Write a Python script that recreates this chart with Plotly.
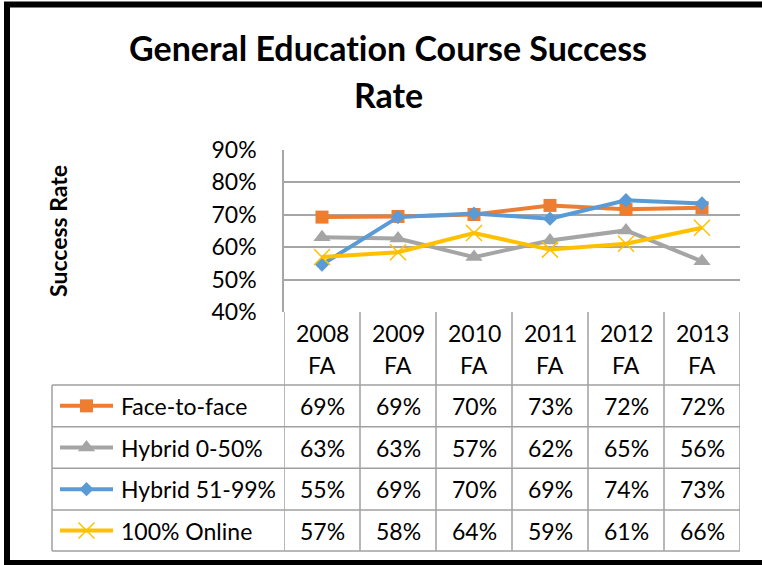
import plotly.graph_objects as go

# ---------------- data ----------------
categories = ["2008 FA", "2009 FA", "2010 FA", "2011 FA", "2012 FA", "2013 FA"]
years = ["2008", "2009", "2010", "2011", "2012", "2013"]
terms = ["FA", "FA", "FA", "FA", "FA", "FA"]
series_names = ["Face-to-face", "Hybrid 0-50%", "Hybrid 51-99%", "100% Online"]
face_to_face = [0.692, 0.694, 0.700, 0.728, 0.716, 0.721]
hybrid_0_50 = [0.630, 0.626, 0.569, 0.620, 0.651, 0.556]
hybrid_51_99 = [0.546, 0.692, 0.703, 0.687, 0.744, 0.734]
online_100 = [0.569, 0.584, 0.643, 0.592, 0.610, 0.659]
y_ticks = [0.4, 0.5, 0.6, 0.7, 0.8, 0.9]

# ---------------- styles ----------------
colors = ["#ED7D31", "#A5A5A5", "#5B9BD5", "#FFC000"]
symbols = ["square", "triangle-up", "diamond", "x-thin"]
msizes = [13, 15, 11, 16]
FONT = "Lato"
FS = 23
GRID = "#A6A6A6"
TABLE_LINE = "#A0A0A0"
NOLIG = "font-variant-ligatures:none"

W, H = 762, 565
PL, PR, PT, PB = 284, 740, 149.5, 312
ROWS = [385, 426.7, 468.3, 510, 551]
TL = 52

fig = go.Figure()
all_series = [face_to_face, hybrid_0_50, hybrid_51_99, online_100]
xs = list(range(len(categories)))

for name, vals, c, s, ms in zip(series_names, all_series, colors, symbols, msizes):
    marker = dict(symbol=s, size=ms, color=c)
    if s == "x-thin":
        marker["line"] = dict(color=c, width=1.5)
    fig.add_trace(go.Scatter(x=xs, y=vals, mode="lines+markers", name=name,
                             line=dict(color=c, width=4), marker=marker,
                             xaxis="x", yaxis="y", showlegend=False,
                             cliponaxis=False))

# legend keys inside the data table (pixel overlay axes)
for i, (c, s, ms) in enumerate(zip(colors, symbols, msizes)):
    yc = (ROWS[i] + ROWS[i + 1]) / 2
    marker = dict(symbol=s, size=ms, color=c)
    if s == "x-thin":
        marker["line"] = dict(color=c, width=1.5)
    fig.add_trace(go.Scatter(x=[60, 113], y=[yc, yc], mode="lines",
                             line=dict(color=c, width=4), xaxis="x2", yaxis="y2",
                             showlegend=False, hoverinfo="skip"))
    fig.add_trace(go.Scatter(x=[86.5], y=[yc], mode="markers", marker=marker,
                             xaxis="x2", yaxis="y2", showlegend=False,
                             hoverinfo="skip"))

shapes = []
annotations = []
# outer black frame
shapes.append(dict(type="rect", xref="x2", yref="y2", x0=7, x1=800, y0=4.5, y1=563,
                   line=dict(color="black", width=6), fillcolor="rgba(0,0,0,0)"))

# table lines
for k in range(len(categories) + 1):
    x = k - 0.5
    shapes.append(dict(type="line", xref="x", yref="y2", x0=x, x1=x, y0=PB, y1=ROWS[-1],
                       line=dict(color=TABLE_LINE, width=1.5)))
for yv in ROWS:
    shapes.append(dict(type="line", xref="x2", yref="y2", x0=TL, x1=PR, y0=yv, y1=yv,
                       line=dict(color=TABLE_LINE, width=1.5)))
shapes.append(dict(type="line", xref="x2", yref="y2", x0=TL, x1=TL, y0=ROWS[0], y1=ROWS[-1],
                   line=dict(color=TABLE_LINE, width=1.5)))

tfont = dict(family=FONT, size=FS, color="black")
# header text
for i, (yr, tm) in enumerate(zip(years, terms)):
    annotations.append(dict(x=i, y=333, xref="x", yref="y2", text=yr, showarrow=False, font=tfont))
    annotations.append(dict(x=i, y=365, xref="x", yref="y2", text=tm, showarrow=False, font=tfont))
# row text
for r, (name, vals) in enumerate(zip(series_names, all_series)):
    yc = (ROWS[r] + ROWS[r + 1]) / 2
    annotations.append(dict(x=119, y=yc, xref="x2", yref="y2", text=name, showarrow=False,
                            xanchor="left", font=tfont))
    for i, v in enumerate(vals):
        annotations.append(dict(x=i, y=yc, xref="x", yref="y2", text=f"{round(v*100)}%",
                                showarrow=False, font=tfont))

# title and axis title
annotations.append(dict(x=388, y=47, xref="x2", yref="y2",
                        text=f"<span style='{NOLIG}'><b>General Education Course Success</b></span>",
                        showarrow=False, font=dict(family=FONT, size=34, color="black")))
annotations.append(dict(x=388, y=94, xref="x2", yref="y2", text="<b>Rate</b>",
                        showarrow=False, font=dict(family=FONT, size=34, color="black")))
annotations.append(dict(x=58, y=231, xref="x2", yref="y2", text="<b>Success Rate</b>", textangle=-90,
                        showarrow=False, font=dict(family=FONT, size=23, color="black")))

fig.update_layout(
    width=W, height=H, autosize=False,
    margin=dict(l=0, r=0, t=0, b=0, pad=0, autoexpand=False),
    paper_bgcolor="white", plot_bgcolor="rgba(0,0,0,0)",
    showlegend=False,
    xaxis=dict(domain=[PL / W, PR / W], range=[-0.5, 5.5], showticklabels=False,
               showgrid=False, zeroline=False, showline=False, anchor="y",
               automargin=False, fixedrange=True),
    yaxis=dict(domain=[(H - PB) / H, (H - PT) / H], range=[0.4, 0.9], tickvals=y_ticks,
               tickformat=".0%", showgrid=True, gridcolor=GRID, gridwidth=1.5,
               zeroline=False, showline=True, linecolor=GRID, linewidth=1.5,
               ticks="", ticklabelstandoff=21, anchor="x", automargin=False,
               fixedrange=True, tickfont=tfont),
    xaxis2=dict(domain=[0, 1], range=[0, W], visible=False, anchor="y2",
                automargin=False, fixedrange=True),
    yaxis2=dict(domain=[0, 1], range=[H, 0], visible=False, anchor="x2",
                automargin=False, fixedrange=True),
    shapes=shapes, annotations=annotations,
)

fig.write_html("out.html", config={"displayModeBar": False},
               post_script="document.body.style.margin='0';document.body.style.overflow='hidden';")
